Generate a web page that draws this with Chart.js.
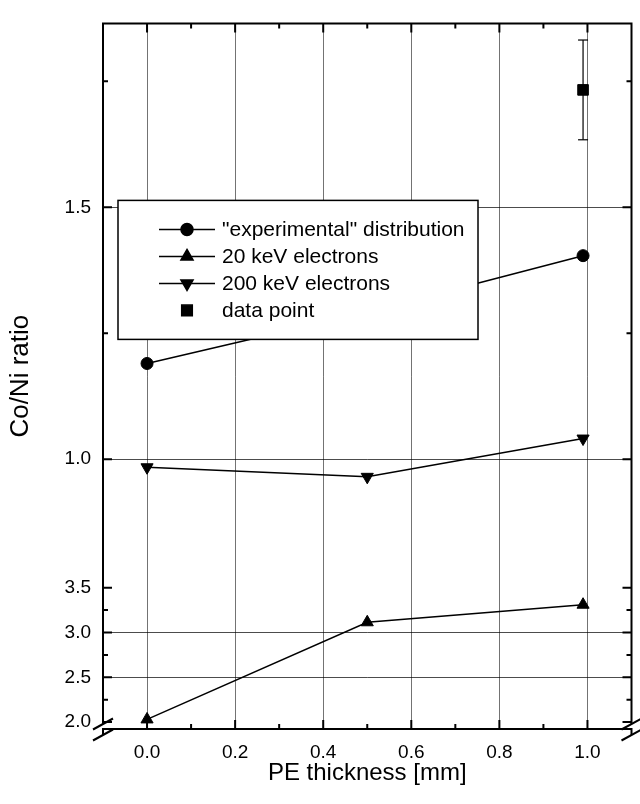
<!DOCTYPE html>
<html>
<head>
<meta charset="utf-8">
<script src="https://cdn.jsdelivr.net/npm/chart.js@4.4.1/dist/chart.umd.min.js"></script>
<style>
  body { margin: 0; background: #fff; }
</style>
</head>
<body>
<canvas id="coNi" width="640" height="804"></canvas>
<script>
// values
const thickness = [0.0, 0.5, 0.99];
const expRatio = [1.19, 1.292, 1.404];
const kev20Ratio = [2.03, 3.114, 3.31];
const kev200Ratio = [0.984, 0.965, 1.041];
const pointX = [0.99];
const pointRatio = [1.733];
const pointErr = [0.099];

const labels = ['"experimental" distribution', '20 keV electrons', '200 keV electrons', 'data point'];

// tick positions
const xMajor = [0.0, 0.2, 0.4, 0.6, 0.8, 1.0];
const xMinor = [0.1, 0.3, 0.5, 0.7, 0.9];
const topMajor = [2.0, 2.5, 3.0, 3.5];
const topMinor = [2.25, 2.75, 3.25];
const lowMajor = [1.0, 1.5];
const lowMinor = [1.25, 1.75];

const FONT = "'Liberation Sans', Arial, sans-serif";
const gridColor = 'rgba(0,0,0,0.7)';
const none = 'rgba(0,0,0,0)';

function pts(xs, ys) {
    return xs.map((x, i) => ({ x: x, y: ys[i] }));
}

const errBar = [
    { x: pointX[0], y: pointRatio[0] - pointErr[0] },
    { x: pointX[0], y: pointRatio[0] + pointErr[0] }
];

function tickLabel(list) {
    return function(v) {
        return list.includes(v) ? v.toFixed(1) : '';
    };
}

// box, inward ticks, axis break, y title
const framePlugin = {
    id: 'frame',
    afterDraw(chart) {
        const { ctx, chartArea: a, scales } = chart;
        const cut = scales.yTop.bottom;
        ctx.save();
        ctx.strokeStyle = '#000';
        ctx.lineWidth = 2;
        ctx.beginPath();
        ctx.moveTo(a.left - 1, a.top); ctx.lineTo(a.right + 1, a.top);
        ctx.moveTo(a.left - 1, a.bottom); ctx.lineTo(a.right + 1, a.bottom);
        [a.left, a.right].forEach(x => {
            ctx.moveTo(x, a.top); ctx.lineTo(x, cut - 5);
            ctx.moveTo(x, cut + 6); ctx.lineTo(x, a.bottom);
        });
        ctx.stroke();

        // break marks
        ctx.lineWidth = 2;
        ctx.beginPath();
        [a.left, a.right].forEach(x => {
            [cut - 5, cut + 6].forEach(c => {
                ctx.moveTo(x - 10, c + 5.5);
                ctx.lineTo(x + 10, c - 5.5);
            });
        });
        ctx.stroke();

        // inward ticks
        ctx.beginPath();
        const xs = scales.x;
        xMajor.concat(xMinor).forEach(v => {
            const p = xs.getPixelForValue(v);
            const len = xMajor.includes(v) ? 9 : 5;
            ctx.moveTo(p, a.bottom); ctx.lineTo(p, a.bottom - len);
            ctx.moveTo(p, a.top); ctx.lineTo(p, a.top + len);
        });
        [[scales.yTop, topMajor, topMinor], [scales.yLow, lowMajor, lowMinor]].forEach(([s, maj, min]) => {
            maj.concat(min).forEach(v => {
                const p = s.getPixelForValue(v);
                const len = maj.includes(v) ? 9 : 5;
                ctx.moveTo(a.left, p); ctx.lineTo(a.left + len, p);
                ctx.moveTo(a.right, p); ctx.lineTo(a.right - len, p);
            });
        });
        ctx.stroke();

        // y axis title
        ctx.translate(21, (a.top + a.bottom) / 2);
        ctx.rotate(-Math.PI / 2);
        ctx.fillStyle = '#000';
        ctx.font = '26px ' + FONT;
        ctx.textAlign = 'center';
        ctx.textBaseline = 'middle';
        ctx.fillText('Co/Ni ratio', 0, 0);
        ctx.restore();
    }
};

// legend box inside the plot
const legendPlugin = {
    id: 'boxLegend',
    afterDatasetsDraw(chart) {
        const { ctx, chartArea: a } = chart;
        const left = a.left + 15, top = a.top + 177;
        const w = 360, h = 139;
        ctx.save();
        ctx.fillStyle = '#fff';
        ctx.fillRect(left, top, w, h);
        ctx.strokeStyle = '#000';
        ctx.lineWidth = 1.5;
        ctx.strokeRect(left, top, w, h);
        ctx.font = '21px ' + FONT;
        ctx.textBaseline = 'middle';
        ctx.textAlign = 'left';
        chart.data.datasets.filter(d => d.label).forEach((d, i) => {
            const y = top + 29 + i * 27;
            const mx = left + 69;
            ctx.strokeStyle = '#000';
            ctx.fillStyle = '#000';
            if (d.showLine) {
                ctx.lineWidth = 1.5;
                ctx.beginPath();
                ctx.moveTo(left + 41, y);
                ctx.lineTo(left + 97, y);
                ctx.stroke();
            }
            Chart.helpers.drawPoint(ctx, {
                pointStyle: d.pointStyle,
                rotation: d.pointRotation || 0,
                radius: d.pointRadius,
                borderWidth: 1
            }, mx, y);
            ctx.fillStyle = '#000';
            ctx.fillText(d.label, left + 104, y + 1);
        });
        ctx.restore();
    }
};

const lineStyle = {
    showLine: true,
    borderColor: '#000',
    borderWidth: 1.5,
    pointBackgroundColor: '#000',
    pointBorderColor: '#000',
    pointBorderWidth: 1,
    clip: false
};

new Chart(document.getElementById('coNi'), {
    type: 'scatter',
    data: {
        datasets: [
            Object.assign({
                label: labels[0], data: pts(thickness, expRatio), yAxisID: 'yLow',
                pointStyle: 'circle', pointRadius: 6
            }, lineStyle),
            Object.assign({
                label: labels[1], data: pts(thickness, kev20Ratio), yAxisID: 'yTop',
                pointStyle: 'triangle', pointRadius: 7
            }, lineStyle),
            Object.assign({
                label: labels[2], data: pts(thickness, kev200Ratio), yAxisID: 'yLow',
                pointStyle: 'triangle', pointRotation: 180, pointRadius: 7
            }, lineStyle),
            Object.assign({}, lineStyle, {
                label: labels[3], data: pts(pointX, pointRatio), yAxisID: 'yLow',
                pointStyle: 'rect', pointRadius: 7.5, showLine: false
            }),
            Object.assign({}, lineStyle, {
                data: errBar, yAxisID: 'yLow',
                pointStyle: 'line', pointRadius: 5, borderWidth: 1.2, pointBorderWidth: 1.2
            })
        ]
    },
    options: {
        responsive: false,
        animation: false,
        layout: { padding: { top: 16, right: 8, left: 0, bottom: 0 } },
        plugins: {
            legend: { display: false },
            tooltip: { enabled: false }
        },
        scales: {
            x: {
                type: 'linear',
                min: -0.1,
                max: 1.1,
                afterBuildTicks: s => { s.ticks = xMajor.concat(xMinor).map(v => ({ value: v })); },
                afterFit: s => { s.height = 75; },
                grid: {
                    drawTicks: false,
                    lineWidth: 1,
                    color: c => (c.tick && xMajor.includes(c.tick.value)) ? 'rgba(0,0,0,0.55)' : none
                },
                border: { display: false },
                ticks: {
                    autoSkip: false,
                    maxRotation: 0,
                    padding: 12,
                    color: '#000',
                    font: { family: FONT, size: 19 },
                    callback: tickLabel(xMajor)
                },
                title: {
                    display: true,
                    text: 'PE thickness [mm]',
                    color: '#000',
                    font: { family: FONT, size: 24 },
                    padding: { top: 0, bottom: 16 }
                }
            },
            yTop: {
                type: 'linear',
                position: 'left',
                stack: 'ratio',
                stackWeight: 143,
                min: 1.923,
                max: 3.5,
                afterBuildTicks: s => { s.ticks = topMajor.concat(topMinor).map(v => ({ value: v })); },
                afterFit: s => { s.width = 103; },
                grid: {
                    drawTicks: false,
                    lineWidth: 1,
                    color: c => (c.tick && c.tick.value > 2.0 && c.tick.value < 3.5 && topMajor.includes(c.tick.value)) ? gridColor : none
                },
                border: { display: false },
                ticks: {
                    autoSkip: false,
                    padding: 12,
                    color: '#000',
                    font: { family: FONT, size: 19 },
                    callback: tickLabel(topMajor)
                }
            },
            yLow: {
                type: 'linear',
                position: 'left',
                stack: 'ratio',
                stackWeight: 571,
                min: 0.745,
                max: 1.865,
                afterBuildTicks: s => { s.ticks = lowMajor.concat(lowMinor).map(v => ({ value: v })); },
                afterFit: s => { s.width = 103; },
                grid: {
                    drawTicks: false,
                    lineWidth: 1,
                    color: c => (c.tick && lowMajor.includes(c.tick.value)) ? gridColor : none
                },
                border: { display: false },
                ticks: {
                    autoSkip: false,
                    padding: 12,
                    color: '#000',
                    font: { family: FONT, size: 19 },
                    callback: tickLabel(lowMajor)
                }
            }
        }
    },
    plugins: [legendPlugin, framePlugin]
});
</script>
</body>
</html>
